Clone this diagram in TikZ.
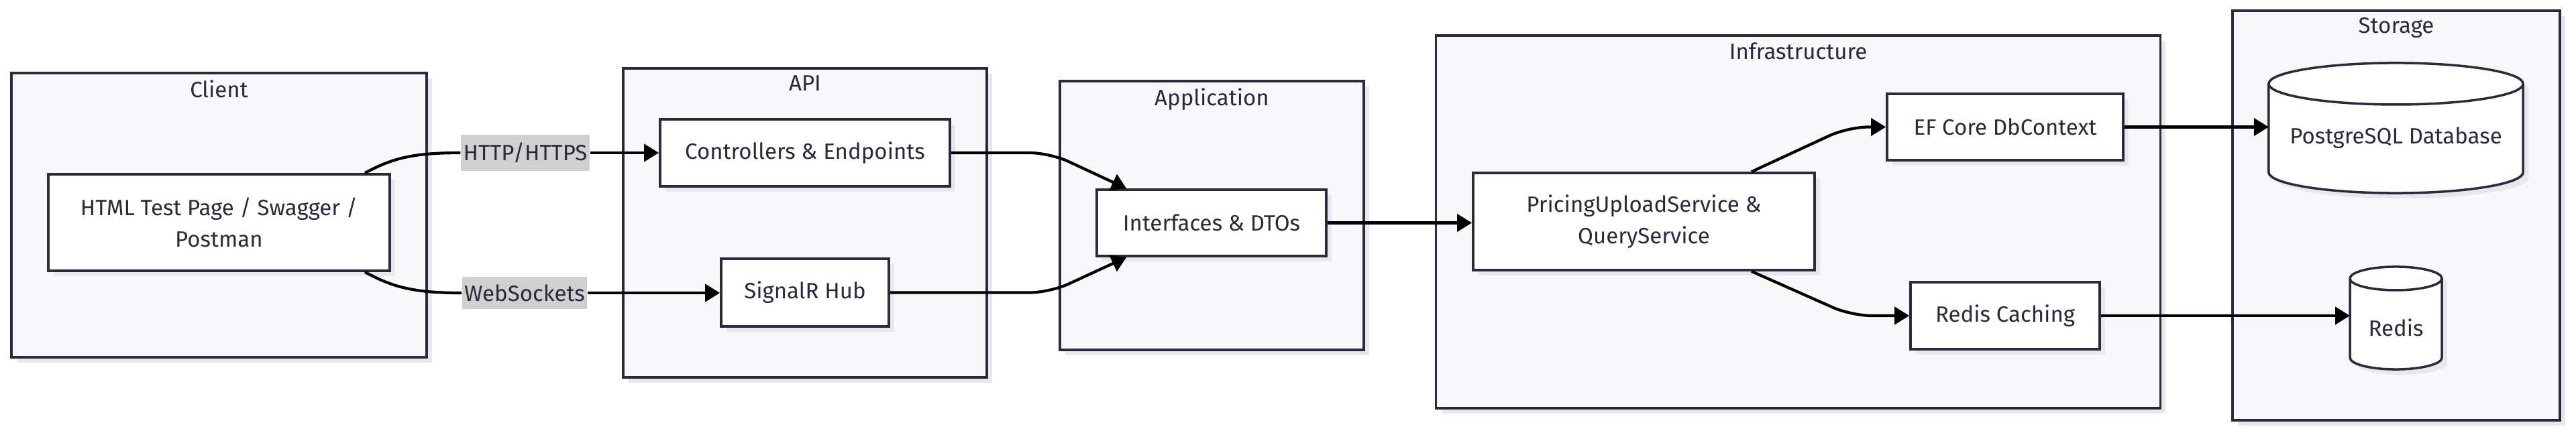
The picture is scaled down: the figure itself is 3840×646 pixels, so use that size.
\documentclass[tikz,border=0pt]{standalone}
\usepackage{fontspec}
\setmainfont{Fira Sans}
\usetikzlibrary{arrows.meta,calc,shadows}
\definecolor{ink}{HTML}{2B2A3D}
\definecolor{panel}{HTML}{F8F8FA}
\definecolor{tag}{HTML}{D0D0D0}
\definecolor{shade}{HTML}{E8E8EC}

\newcommand{\dbshape}[3]{%
  \path[fill=shade] ([xshift=0.08cm, yshift=-#3-0.08cm]#1.north west)
    -- ([xshift=0.08cm, yshift=#3-0.08cm]#1.south west)
    arc[start angle=180, end angle=360, x radius=#2, y radius=#3]
    -- ([xshift=0.08cm, yshift=-#3-0.08cm]#1.north east)
    arc[start angle=0, end angle=180, x radius=#2, y radius=#3] -- cycle;
  \path[draw=ink, line width=1pt, fill=white] ([yshift=-#3]#1.north west)
    -- ([yshift=#3]#1.south west)
    arc[start angle=180, end angle=360, x radius=#2, y radius=#3]
    -- ([yshift=-#3]#1.north east)
    arc[start angle=0, end angle=180, x radius=#2, y radius=#3] -- cycle;
  \draw[ink, line width=1pt] ([yshift=-#3]#1.north west)
    arc[start angle=180, end angle=360, x radius=#2, y radius=#3];
}

\begin{document}
\begin{tikzpicture}[
    x=0.01cm, y=-0.01cm,
    every node/.style={
        font=\fontsize{9.4}{13.4}\selectfont,
        text=ink,
        align=center
    },
    cluster/.style={
        draw=ink, line width=1pt, fill=panel,
        drop shadow={shadow xshift=0.08cm, shadow yshift=-0.08cm, fill=shade, opacity=1}
    },
    title/.style={anchor=north, inner sep=0pt, yshift=-0.12cm},
    box/.style={
        draw=ink, line width=1pt, fill=white,
        drop shadow={shadow xshift=0.08cm, shadow yshift=-0.08cm, fill=shade, opacity=1}
    },
    db/.style={inner sep=0pt, outer sep=0pt},
    tagbox/.style={fill=tag, inner xsep=1pt, minimum height=0.45cm},
    link/.style={draw=black, line width=1.2pt},
    flow/.style={link, -{Triangle[length=0.22cm,width=0.26cm]}}
]
\useasboundingbox (0,0) rectangle (3840,646);

\node[cluster, minimum width=6.19cm, minimum height=4.24cm,
    label={[title]north:Client}] (client) at (326.5,321) {};
\node[cluster, minimum width=5.42cm, minimum height=4.61cm,
    label={[title]north:API}] (api) at (1200,332.5) {};
\node[cluster, minimum width=4.53cm, minimum height=4.01cm,
    label={[title]north:Application}] (app) at (1806.5,321.5) {};
\node[cluster, minimum width=10.79cm, minimum height=5.56cm,
    label={[title]north:Infrastructure}] (infra) at (2680.5,331) {};
\node[cluster, minimum width=4.88cm, minimum height=6.11cm,
    label={[title]north:Storage}] (storage) at (3572,321.5) {};

\node[box, minimum width=5.09cm, minimum height=1.44cm] (html) at (326.5,332)
    {HTML Test Page / Swagger /\\Postman};
\node[box, minimum width=4.32cm, minimum height=1cm] (ctrl) at (1200,228)
    {Controllers \& Endpoints};
\node[box, minimum width=2.5cm, minimum height=1.01cm] (sig) at (1200,436.5)
    {SignalR Hub};
\node[box, minimum width=3.42cm, minimum height=0.99cm] (ifc) at (1806,332.5)
    {Interfaces \& DTOs};
\node[box, minimum width=5.09cm, minimum height=1.45cm] (pus) at (2450.5,330.5)
    {PricingUploadService \&\\QueryService};
\node[box, minimum width=3.52cm, minimum height=0.99cm] (ef) at (2989,189.5)
    {EF Core DbContext};
\node[box, minimum width=2.82cm, minimum height=1cm] (rc) at (2989,471)
    {Redis Caching};

\node[db, minimum width=3.79cm, minimum height=1.94cm] (pg) at (3571.5,191) {};
\dbshape{pg}{1.895cm}{0.31cm}
\node (pgname) at ([yshift=-0.15cm]pg.center) {PostgreSQL Database};
\node[db, minimum width=1.37cm, minimum height=1.53cm] (redis) at (3571.5,474.5) {};
\dbshape{redis}{0.685cm}{0.175cm}
\node (redisname) at ([yshift=-0.145cm]redis.center) {Redis};

\node[tagbox] (http) at (783,228) {HTTP/HTTPS};
\node[tagbox] (ws) at (782,437) {WebSockets};

\draw[link] ($(html.north east)+(-39,0)$) .. controls (585,236) and (615,228) .. (http.west);
\draw[flow] (http.east) -- (ctrl.west);
\draw[link] ($(html.south east)+(-39,0)$) .. controls (585,428) and (615,437) .. (ws.west);
\draw[flow] (ws.east) -- (ws.east -| sig.west);
\draw[flow, rounded corners=0.3cm] (ctrl.east) -- (1565,228) -- ($(ifc.north west)+(46,0)$);
\draw[flow, rounded corners=0.3cm] (sig.east) -- (1565,436.5) -- ($(ifc.south west)+(46,0)$);
\draw[flow] (ifc.east) -- (ifc.east -| pus.west);
\draw[flow, rounded corners=0.3cm] ($(pus.north east)+(-96,0)$) -- (2755,189.5) -- (ef.west);
\draw[flow, rounded corners=0.3cm] ($(pus.south east)+(-96,0)$) -- (2760,471) -- (rc.west);
\draw[flow] (ef.east) -- (ef.east -| pg.west);
\draw[flow] (rc.east) -- (rc.east -| redis.west);

\end{tikzpicture}
\end{document}
